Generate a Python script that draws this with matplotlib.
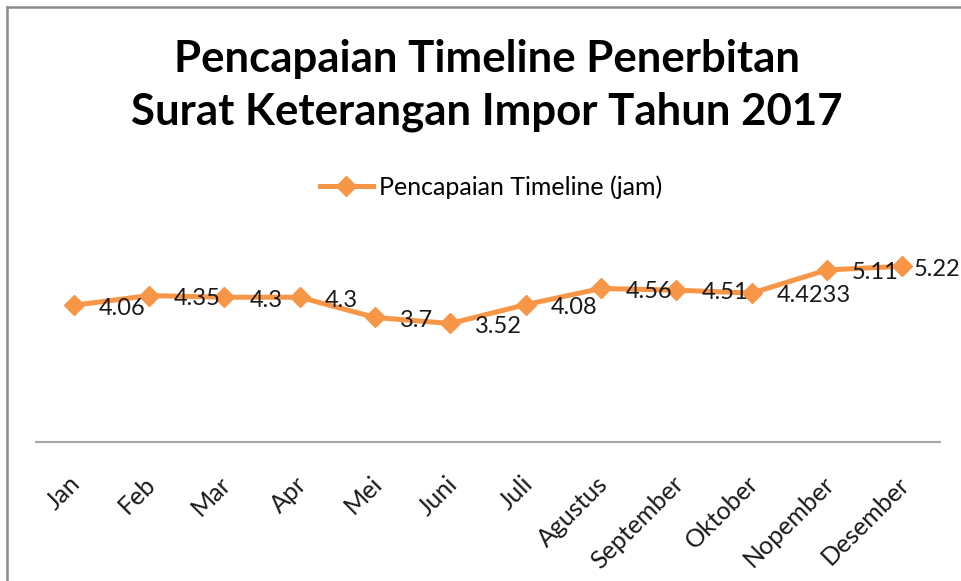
import matplotlib
matplotlib.use("Agg")
import matplotlib.pyplot as plt
import matplotlib.transforms as mtransforms
from matplotlib.lines import Line2D

# data
bulan = ["Jan", "Feb", "Mar", "Apr", "Mei", "Juni", "Juli", "Agustus",
         "September", "Oktober", "Nopember", "Desember"]
timeline_jam = [4.06, 4.35, 4.3, 4.3, 3.7, 3.52, 4.08, 4.56, 4.51, 4.4233, 5.11, 5.22]

judul = "Pencapaian Timeline Penerbitan\nSurat Keterangan Impor Tahun 2017"
nama_seri = "Pencapaian Timeline (jam)"

oranye = "#F79646"
abu = "#A6A6A6"

plt.rcParams["font.family"] = ["Lato", "DejaVu Sans"]

W, H = 961, 581
fig = plt.figure(figsize=(W / 100, H / 100), dpi=100)

# plot area in pixel terms
x0, x1 = 36, 940
y_base, y_top = 442, 240
ax = fig.add_axes([x0 / W, 1 - y_base / H, (x1 - x0) / W, (y_base - y_top) / H])

x = list(range(len(bulan)))
ax.plot(x, timeline_jam, color=oranye, lw=3.6, marker="D", ms=10.5,
        solid_joinstyle="round", zorder=3, label=nama_seri)

for i, v in enumerate(timeline_jam):
    # excel pushes the last label back inside the chart
    dx = 8 if i == len(timeline_jam) - 1 else 18
    ax.annotate(f"{v:g}", (i, v), xytext=(dx, -2), textcoords="offset points",
                ha="left", va="center", fontsize=17, color="#1a1a1a", zorder=4)

ax.set_xlim(-0.5, len(bulan) - 0.5)
ax.set_ylim(0, 6)
ax.set_yticks([])
for s in ["top", "right", "left"]:
    ax.spines[s].set_visible(False)
ax.spines["bottom"].set_color(abu)
ax.spines["bottom"].set_linewidth(1.5)
ax.set_xticks(x)
ax.set_xticklabels(bulan, rotation=45, ha="right", va="top",
                   rotation_mode="anchor", fontsize=18, color="#1a1a1a")
ax.tick_params(axis="x", length=0, pad=0)
geser = mtransforms.ScaledTranslation(-0.05, -0.30, fig.dpi_scale_trans)
for lbl in ax.get_xticklabels():
    lbl.set_transform(lbl.get_transform() + geser)

# title, two lines
for k, baris in enumerate(judul.split("\n")):
    fig.text(487 / W, 1 - (72 + 53 * k) / H, baris, ha="center", va="baseline",
             fontsize=31.5, fontweight="bold", color="black")

# legend above the plot
fig.legend(loc="center", bbox_to_anchor=(491 / W, 1 - 187 / H), frameon=False,
           fontsize=18, handlelength=2.1, handletextpad=0.25, borderpad=0)

# chart frame (cropped at right and bottom)
fig.add_artist(Line2D([7 / W, 1.01], [1 - 7 / H, 1 - 7 / H], transform=fig.transFigure,
                      color="#8C8C8C", lw=1.8))
fig.add_artist(Line2D([7 / W, 7 / W], [1 - 7 / H, -0.01], transform=fig.transFigure,
                      color="#8C8C8C", lw=1.8))

fig.savefig("out.png", dpi=100)
